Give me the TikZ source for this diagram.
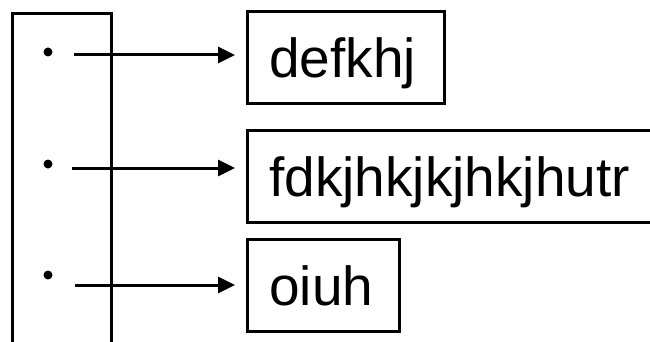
\documentclass[tikz,border=0pt]{standalone}
\usepackage{fontspec}
\setmainfont{Liberation Sans}
\usetikzlibrary{arrows.meta}
\begin{document}
\begin{tikzpicture}[x=1pt,y=-1pt,
  cell/.style={draw=black,line width=2.6pt,minimum height=92pt,inner xsep=22pt,
    text height=41pt,text depth=0pt,align=left,font=\fontsize{55}{60}\selectfont},
  dotmark/.style={circle,fill=black,inner sep=0pt,minimum size=9pt},
  arr/.style={line width=3pt,-{Triangle[length=17pt,width=16pt]},shorten >=11pt}]
  \useasboundingbox (0,0) rectangle (650,342);
  \clip (0,0) rectangle (650,342);
  % pointer array, running off the bottom edge
  \node[draw=black,line width=2.6pt,minimum width=99pt,minimum height=400pt,inner sep=0pt,
    anchor=north west] (array) at (11,12) {};
  % slot markers
  \node[dotmark] (d1) at (48,52) {};
  \node[dotmark] (d2) at (48,164) {};
  \node[dotmark] (d3) at (48,275) {};
  % string cells
  \node[cell,text width=153pt,anchor=north west] (b1) at (246,10) {defkhj};
  \node[cell,text width=380pt,anchor=north west] (b2) at (246,129) {fdkjhkjkjhkjhutr};
  \node[cell,text width=108pt,anchor=north west] (b3) at (246,238) {oiuh};
  % arrow tails
  \coordinate (s1) at (74,55);
  \coordinate (s2) at (72,168);
  \coordinate (s3) at (75,285);
  \draw[arr] (s1) -- (s1 -| b1.west);
  \draw[arr] (s2) -- (s2 -| b2.west);
  \draw[arr] (s3) -- (s3 -| b3.west);
\end{tikzpicture}
\end{document}
